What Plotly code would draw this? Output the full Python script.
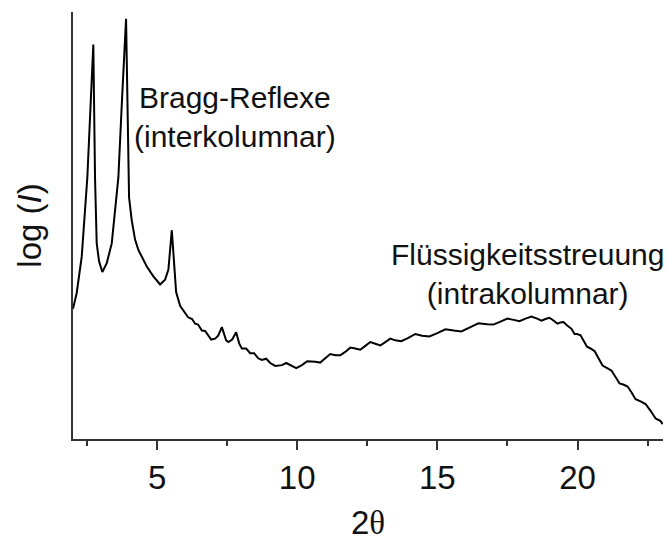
import plotly.graph_objects as go

# 2-theta (deg) and log-intensity (arbitrary units, axis spans 0..100)
two_theta = [2.000, 2.132, 2.311, 2.429, 2.511, 2.725, 2.786, 2.846, 2.93, 3.046,
             3.204, 3.382, 3.5, 3.618, 3.75, 3.893, 4.0, 4.096, 4.214, 4.332,
             4.632, 4.868, 5.107, 5.286, 5.404, 5.525, 5.607, 5.679, 5.821, 5.964,
             6.107, 6.25, 6.357, 6.464, 6.596, 6.714, 6.821, 6.929, 7.071, 7.179,
             7.311, 7.393, 7.464, 7.546, 7.679, 7.821, 7.929, 8.025, 8.179, 8.321,
             8.464, 8.607, 8.739, 8.893, 9.036, 9.214, 9.454, 9.607, 9.786, 9.964,
             10.168, 10.357, 10.643, 10.821, 11.0, 11.179, 11.357, 11.536, 11.714, 11.893,
             12.071, 12.25, 12.429, 12.607, 12.786, 12.964, 13.143, 13.321, 13.5, 13.714,
             13.964, 14.214, 14.454, 14.714, 15.0, 15.286, 15.582, 15.857, 16.179, 16.464,
             16.775, 17.0, 17.25, 17.5, 17.725, 17.929, 18.143, 18.357, 18.561, 18.714,
             18.857, 19.0, 19.154, 19.286, 19.393, 19.5, 19.632, 19.786, 19.893, 19.989,
             20.107, 20.214, 20.339, 20.464, 20.607, 20.75, 20.893, 21.061, 21.214, 21.357,
             21.5, 21.654, 21.786, 21.929, 22.071, 22.25, 22.429, 22.607, 22.786, 22.964,
             23.04]
log_I = [30.5, 34.2, 42.7, 53.6, 61.2, 92.4, 61.2, 45.8, 41.6, 39.1,
         41.2, 45.8, 53.1, 61.2, 79.7, 98.4, 56.6, 51.2, 46.7, 44.3,
         40.4, 38.1, 36.2, 37.3, 39.7, 48.9, 41.2, 34.4, 31.2, 29.8,
         28.5, 28.1, 27.0, 26.8, 25.4, 25.3, 24.2, 23.3, 23.5, 24.2,
         26.2, 24.2, 23.1, 22.7, 23.3, 25.0, 22.4, 21.2, 21.2, 20.1,
         20.1, 18.9, 18.5, 18.8, 17.8, 17.1, 17.3, 17.8, 17.1, 16.6,
         17.3, 18.2, 18.1, 17.9, 18.9, 19.9, 19.6, 19.6, 20.4, 21.4,
         21.2, 20.9, 21.8, 22.7, 22.3, 21.9, 22.7, 23.5, 23.1, 22.9,
         23.7, 24.6, 24.2, 24.0, 24.8, 25.7, 25.4, 25.2, 26.2, 27.1,
         26.9, 26.8, 27.5, 28.2, 27.9, 27.6, 28.2, 28.7, 28.2, 27.7,
         28.1, 28.4, 27.7, 27.0, 27.3, 27.4, 26.6, 25.8, 24.6, 24.6,
         24.3, 23.1, 21.6, 21.2, 20.6, 18.9, 17.2, 16.6, 16.0, 14.5,
         13.0, 12.7, 12.3, 10.9, 9.3, 8.8, 8.2, 6.6, 4.8, 4.2,
         3.5]

x_ticks = [5, 10, 15, 20]
x_ticklabels = ["5", "10", "15", "20"]
x_minor_ticks = [2.5, 7.5, 12.5, 17.5, 22.5]

ann_texts = ["Bragg-Reflexe<br>(interkolumnar)",
             "Flüssigkeitsstreuung<br>(intrakolumnar)"]
ann_x = [7.79, 18.21]
ann_y = [75.5, 38.6]

FONT = "Liberation Sans, Arial, sans-serif"

fig = go.Figure()
fig.add_trace(go.Scatter(x=two_theta, y=log_I, mode="lines",
                         line=dict(color="#000000", width=2),
                         showlegend=False, hoverinfo="skip"))

for t, ax_, ay_ in zip(ann_texts, ann_x, ann_y):
    fig.add_annotation(x=ax_, y=ay_, xref="x", yref="y", text=t, showarrow=False,
                       xanchor="center", yanchor="middle", align="center",
                       font=dict(family=FONT, size=30, color="#111111"))

fig.update_layout(
    width=669, height=541,
    margin=dict(l=73, r=6, t=12, b=96),
    paper_bgcolor="white", plot_bgcolor="white",
    font=dict(family=FONT, color="#111111"),
    xaxis=dict(range=[2.0, 23.05], tickvals=x_ticks, ticktext=x_ticklabels,
               ticks="outside", ticklen=9, tickwidth=1.5, tickcolor="#333333",
               showline=True, linecolor="#333333", linewidth=1.5, mirror=False,
               showgrid=False, zeroline=False,
               tickfont=dict(family=FONT, size=33, color="#111111"),
               minor=dict(tickvals=x_minor_ticks, ticks="outside",
                          ticklen=5, tickwidth=1.5, tickcolor="#333333"),
               title=dict(text='2<span style="font-family:Liberation Serif">θ</span>',
                          font=dict(family=FONT, size=33, color="#111111"), standoff=16)),
    yaxis=dict(range=[0, 100], showticklabels=False, ticks="",
               showline=True, linecolor="#333333", linewidth=1.5,
               showgrid=False, zeroline=False,
               title=dict(text="log (<i>I</i>)",
                          font=dict(family=FONT, size=33, color="#111111"), standoff=20)),
)

fig.write_html("out.html")
